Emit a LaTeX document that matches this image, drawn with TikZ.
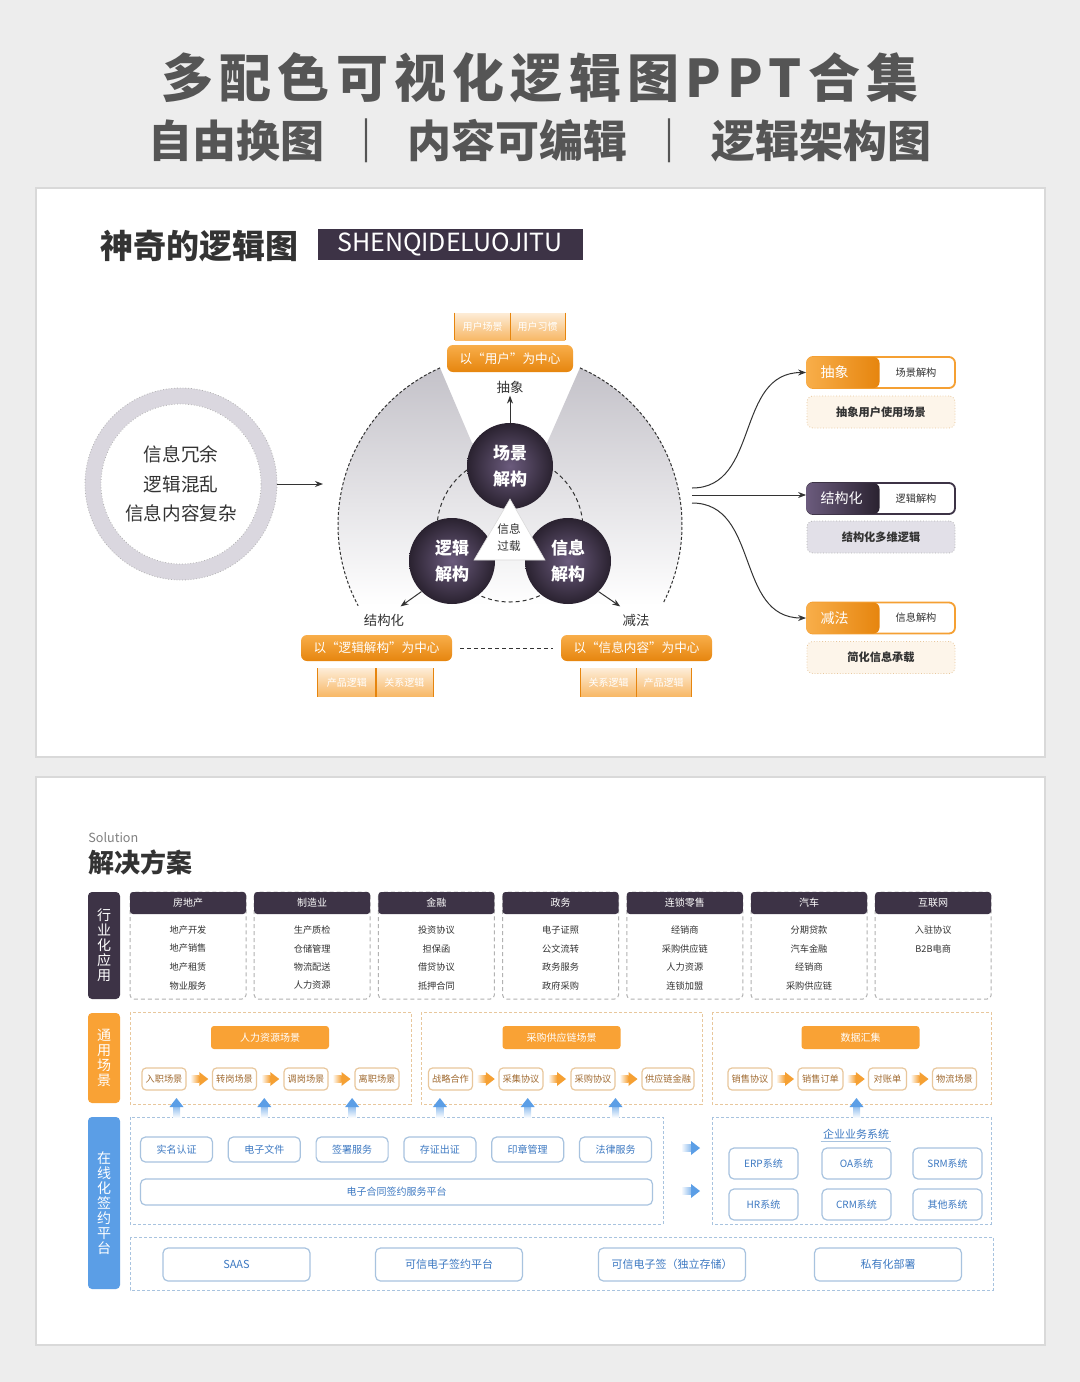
\documentclass[tikz,border=0pt]{standalone}
\usepackage{fontspec}
\setmainfont{Noto Sans CJK SC}
\newfontfamily\spacedfont[LetterSpace=12]{Noto Sans CJK SC}
\usetikzlibrary{positioning,arrows.meta,calc}
\newcommand\setfs[2]{\fontsize{#1}{#2}\selectfont}

\definecolor{pagegray}{HTML}{EDEDED}
\definecolor{panelline}{HTML}{D9D9D9}
\definecolor{ink}{HTML}{333333}
\definecolor{titlegray}{HTML}{555555}
\definecolor{plum}{HTML}{3D3346}
\definecolor{plumlight}{HTML}{6B5B7D}
\definecolor{plumdark}{HTML}{2A2230}
\definecolor{amber}{HTML}{F5A033}
\definecolor{amberlight}{HTML}{F8AE4A}
\definecolor{amberdark}{HTML}{E6850E}
\definecolor{amberfill}{HTML}{F9A235}
\definecolor{amberline}{HTML}{E8C79C}
\definecolor{amberpale}{HTML}{FDF5EA}
\definecolor{amberink}{HTML}{A06A30}
\definecolor{ringgray}{HTML}{DAD7DF}
\definecolor{fangray}{HTML}{C4C2C9}
\definecolor{lavender}{HTML}{E2E0E8}
\definecolor{skyblue}{HTML}{5B9EE6}
\definecolor{blueink}{HTML}{3D79C2}
\definecolor{blueline}{HTML}{A8C3DF}

\tikzset{
  ball/.style={circle, minimum size=43pt, inner sep=0pt, inner color=plumlight, outer color=plumdark,
    text=white, align=center, font=\bfseries\setfs{8.5}{13}},
  centerbox/.style={rounded corners=3pt, top color=amberlight, bottom color=amberdark, text=white,
    minimum height=13pt, inner sep=0pt, font=\setfs{6.3}{8}},
  tabcell/.style={top color=amber!20, bottom color=amber!75, text=white, minimum height=14pt,
    inner sep=0pt, font=\setfs{5}{6}},
  tabrule/.style={amberdark, line width=0.8pt},
  steplabel/.style={text=ink, font=\setfs{6.7}{8}, inner sep=1pt},
  linkarrow/.style={-{Stealth[length=4pt,width=3pt]}, ink, line width=0.5pt},
  tagframe/.style={draw=#1, line width=0.9pt, fill=white, rounded corners=3pt, minimum width=74pt,
    minimum height=15.5pt, inner sep=0pt},
  taghead/.style={rounded corners=3pt, minimum height=15.5pt, text width=22.5pt, inner xsep=7pt,
    inner ysep=0pt, align=left, text=white, font=\setfs{7}{8}, anchor=west},
  tagtext/.style={text=ink, font=\setfs{5.1}{6}},
  tagnote/.style={rounded corners=3pt, densely dotted, draw=#1, minimum width=74pt, minimum height=16pt,
    inner sep=0pt, text=ink, font=\bfseries\setfs{5.6}{7}},
  sidebar/.style={rounded corners=2pt, minimum width=16pt, inner sep=0pt, align=center, text=white,
    font=\setfs{7}{7.5}},
  indhead/.style={fill=plum, text=white, rounded corners=1.5pt, minimum width=58pt, minimum height=11pt,
    inner sep=0pt, font=\setfs{5}{6}},
  inditem/.style={text=ink, font=\setfs{4.6}{5.5}, inner sep=0pt},
  indframe/.style={draw=gray!60, dash pattern=on 2pt off 1.5pt, line width=0.5pt, rounded corners=2pt},
  flowframe/.style={draw=amberline, dash pattern=on 1.5pt off 1pt, line width=0.5pt},
  flowhead/.style={fill=amberfill, text=white, rounded corners=1.5pt, minimum width=59pt,
    minimum height=11.5pt, inner sep=0pt, font=\setfs{5}{6}},
  flowitem/.style={draw=amberline, line width=0.6pt, fill=white, rounded corners=2pt, minimum height=11pt,
    inner sep=0pt, text=amberink, font=\setfs{4.6}{5.5}},
  signframe/.style={draw=blueline, dash pattern=on 1.5pt off 1pt, line width=0.5pt},
  signitem/.style={draw=blueline, line width=0.6pt, fill=white, rounded corners=2.5pt, inner sep=0pt,
    text=blueink, font=\setfs{5}{6}},
  chev/.pic={
    \shade[left color=white, right color=amber] (-9,-3.5) rectangle (0,3.5);
    \fill[amber] (0,-7) -- (9,0) -- (0,7) -- cycle;
  },
  blueup/.pic={
    \shade[top color=skyblue!70, bottom color=white] (-3.5,0) rectangle (3.5,12);
    \fill[skyblue] (-7,1) -- (0,-8) -- (7,1) -- cycle;
  },
  blueright/.pic={
    \shade[left color=white, right color=skyblue!70] (-10,-3.5) rectangle (0,3.5);
    \fill[skyblue] (0,-7) -- (9,0) -- (0,7) -- cycle;
  }
}

\begin{document}
\begin{tikzpicture}[x=0.5pt,y=-0.5pt]
  \useasboundingbox (0,0) rectangle (1080,1382);
  \fill[pagegray] (0,0) rectangle (1080,1382);

  % headline
  \node[text=titlegray, font=\spacedfont\bfseries\setfs{26}{30}] (maintitle) at (540,78) {多配色可视化逻辑图PPT合集};
  \node[text=titlegray, font=\bfseries\setfs{22}{26}] (subtitle) at (540,141)
    {自由换图\hspace{0.45em}｜\hspace{0.45em}内容可编辑\hspace{0.45em}｜\hspace{0.45em}逻辑架构图};

  % ---------- upper panel ----------
  \filldraw[fill=white, draw=panelline, line width=1pt] (36,188) rectangle (1045,757);
  \node[anchor=west, text=ink, font=\bfseries\setfs{16.5}{20}, inner sep=0pt] (logictitle) at (100,246) {神奇的逻辑图};
  \node[fill=plum, text=white, minimum width=132.5pt, minimum height=15.5pt, inner sep=0pt,
    font=\setfs{12.5}{14}] (logiccode) at (450,244.5) {SHENQIDELUOJITU};

  % problem ring
  \node[circle, minimum size=96pt, inner sep=0pt, fill=ringgray, draw=gray!60, densely dotted] (messring) at (181,484) {};
  \node[circle, minimum size=80pt, inner sep=0pt, fill=white, draw=gray!60, densely dotted] (messcore) at (181,484) {};
  \node[align=center, text=ink, font=\setfs{9.3}{14.75}] (mess) at (181,484) {信息冗余\\逻辑混乱\\信息内容复杂};
  \coordinate (fanin) at (323,484);
  \draw[linkarrow] (messring.east) -- (fanin);

  % fan and dashed arcs
  \coordinate (hub) at (510,525);
  \shade[top color=fangray, bottom color=white] (hub) ++(246:172) arc[start angle=246, end angle=152, radius=172]
    -- ($(hub)+(27:172)$) arc[start angle=27, end angle=-66, radius=172] -- (547,443) -- (472,443) -- cycle;
  \draw[ink, line width=0.5pt, dash pattern=on 1.5pt off 1pt] (hub) ++(246:172) arc[start angle=246, end angle=152, radius=172];
  \draw[ink, line width=0.5pt, dash pattern=on 1.5pt off 1pt] (hub) ++(-66:172) arc[start angle=-66, end angle=27, radius=172];
  \draw[ink, line width=0.5pt, dash pattern=on 2pt off 1.5pt] (510,529) circle (73);

  % three balls
  \node[ball] (scene) at (510,466) {场景\\解构};
  \node[ball] (logic) at (452,561) {逻辑\\解构};
  \node[ball] (info) at (568,561) {信息\\解构};
  \filldraw[fill=white, draw=gray!30, line width=0.3pt] (510,499) -- (545,560) -- (474,560) -- cycle;
  \node[align=center, text=ink, font=\setfs{5.8}{8.5}, inner sep=0pt] (overload) at (509,538) {信息\\过载};

  \node[steplabel] (lblabs) at (510,387) {抽象};
  \node[steplabel] (lblstr) at (384,620) {结构化};
  \node[steplabel] (lblsub) at (636,620) {减法};
  \draw[linkarrow] (scene.north) -- (lblabs.south);
  \draw[linkarrow] (logic.225) -- ($(lblstr.north east)+(-6,-5)$);
  \draw[linkarrow] (info.315) -- ($(lblsub.north west)+(0,-5)$);

  % centred orange boxes
  \node[centerbox, minimum width=63pt, minimum height=13.5pt] (ctruser) at (510,358.5) {以“用户”为中心};
  \node[centerbox, minimum width=75.5pt] (ctrlogic) at (376.5,648) {以“逻辑解构”为中心};
  \node[centerbox, minimum width=75.5pt] (ctrinfo) at (636.5,648) {以“信息内容”为中心};
  \draw[ink, line width=0.5pt, dash pattern=on 2pt off 1.5pt, shorten <=4pt, shorten >=4pt] (ctrlogic.east) -- (ctrinfo.west);

  % tabs
  \node[tabcell, minimum width=27.5pt, minimum height=13.5pt] (tabu1) at (482.5,326.5) {用户场景};
  \node[tabcell, minimum width=27.5pt, minimum height=13.5pt] (tabu2) at (537.5,326.5) {用户习惯};
  \node[tabcell, minimum width=28.75pt] (tabl1) at (346.75,682.5) {产品逻辑};
  \node[tabcell, minimum width=28.75pt] (tabl2) at (404.25,682.5) {关系逻辑};
  \node[tabcell, minimum width=27.5pt] (tabr1) at (608.5,682.5) {关系逻辑};
  \node[tabcell, minimum width=27.5pt] (tabr2) at (663.5,682.5) {产品逻辑};
  \foreach \a/\b in {tabu1/tabu2, tabl1/tabl2, tabr1/tabr2}{
    \draw[tabrule] (\a.north west) -- (\a.south west);
    \draw[tabrule] (\a.north east) -- (\a.south east);
    \draw[tabrule] (\b.north east) -- (\b.south east);
  }

  % result tags on the right
  \node[tagframe=amber] (rabs) at (881,372.5) {};
  \node[taghead, left color=amberlight, right color=amberdark] (rabshead) at (rabs.west) {抽象};
  \node[tagtext] (rabstext) at (916,372.5) {场景解构};
  \node[tagnote=amberline, fill=amberpale] (rabsnote) at (881,412) {抽象用户使用场景};

  \node[tagframe=plum] (rstr) at (881,498.5) {};
  \node[taghead, left color=plumlight, right color=plumdark] (rstrhead) at (rstr.west) {结构化};
  \node[tagtext] (rstrtext) at (916,498.5) {逻辑解构};
  \node[tagnote=gray!60, fill=lavender] (rstrnote) at (881,537) {结构化多维逻辑};

  \node[tagframe=amber] (rsub) at (881,618) {};
  \node[taghead, left color=amberlight, right color=amberdark] (rsubhead) at (rsub.west) {减法};
  \node[tagtext] (rsubtext) at (916,618) {信息解构};
  \node[tagnote=amberline, fill=amberpale] (rsubnote) at (881,657.5) {简化信息承载};

  \coordinate (fanA) at (692,488);
  \coordinate (fanB) at (692,495);
  \coordinate (fanC) at (692,503);
  \draw[linkarrow] (fanA) .. controls (760,488) and (735,372.5) .. (rabs.west);
  \draw[linkarrow] (fanB) -- (fanB -| rstr.west);
  \draw[linkarrow] (fanC) .. controls (760,503) and (735,618) .. (rsub.west);

  % ---------- lower panel ----------
  \filldraw[fill=white, draw=panelline, line width=1pt] (36,777) rectangle (1045,1345);
  \node[anchor=west, text=gray, font=\setfs{6.3}{7}, inner sep=0pt] (soltag) at (88,838) {Solution};
  \node[anchor=west, text=ink, font=\bfseries\setfs{13}{15}, inner sep=0pt] (soltitle) at (88,862) {解决方案};

  \node[sidebar, fill=plum, minimum height=53.5pt] (barind) at (104,945.5) {行\\业\\化\\应\\用};
  \node[sidebar, fill=amberfill, minimum height=45pt] (barcom) at (104,1058) {通\\用\\场\\景};
  \node[sidebar, fill=skyblue, minimum height=86pt] (barsig) at (104,1203) {在\\线\\化\\签\\约\\平\\台};

  % industry columns
  \foreach \hd/\ia/\ib/\ic/\id [count=\i from 0] in {
      房地产/地产开发/地产销售/地产租赁/物业服务,
      制造业/生产质检/仓储管理/物流配送/人力资源,
      金融/投资协议/担保函/借贷协议/抵押合同,
      政务/电子证照/公文流转/政务服务/政府采购,
      连锁零售/经销商/采购供应链/人力资源/连锁加盟,
      汽车/分期贷款/汽车金融/经销商/采购供应链,
      互联网/入驻协议/B2B电商//}{
    \pgfmathsetmacro\cx{188+124.2*\i}
    \draw[indframe] (\cx-58,892) rectangle (\cx+58,999);
    \node[indhead] (ind\i) at (\cx,903) {\hd};
    \node[inditem] (ind\i-a) at (\cx,930) {\ia};
    \node[inditem] (ind\i-b) at (\cx,948.5) {\ib};
    \node[inditem] (ind\i-c) at (\cx,967) {\ic};
    \node[inditem] (ind\i-d) at (\cx,985.5) {\id};
  }

  % common scenes
  \draw[flowframe] (130,1012) rectangle (411,1104);
  \draw[flowframe] (421,1012) rectangle (702,1104);
  \draw[flowframe] (712,1012) rectangle (991,1104);
  \node[flowhead] (hrhead) at (270,1037.5) {人力资源场景};
  \node[flowhead] (buyhead) at (561.5,1037.5) {采购供应链场景};
  \node[flowhead] (datahead) at (860.5,1037.5) {数据汇集};
  \foreach \txt/\cx/\w [count=\k] in {入职场景/164/22, 转岗场景/234.5/22, 调岗场景/306/22, 离职场景/377/22,
      战略合作/450.5/22, 采集协议/521/22, 采购协议/593/22, 供应链金融/668/26,
      销售协议/750/22, 销售订单/820.5/22.5, 对账单/887.5/19, 物流场景/954.5/22}{
    \node[flowitem, minimum width=\w pt] (f\k) at (\cx,1079) {\txt};
  }
  \foreach \a/\b in {1/2, 2/3, 3/4, 5/6, 6/7, 7/8, 9/10, 10/11, 11/12}{
    \pic at ($(f\a.east)!0.5!(f\b.west)$) {chev};
  }

  % signing platform
  \draw[signframe] (130,1117) rectangle (663,1224);
  \foreach \txt [count=\k] in {实名认证, 电子文件, 签署服务, 存证出证, 印章管理, 法律服务}{
    \pgfmathsetmacro\cx{176.5+87.8*(\k-1)}
    \node[signitem, minimum width=36pt, minimum height=12.5pt] (s\k) at (\cx,1149.5) {\txt};
  }
  \node[signitem, minimum width=256pt, minimum height=13pt] (plat) at (396.5,1192) {电子合同签约服务平台};

  \draw[signframe] (712,1117) rectangle (991,1224);
  \node[text=blueink, font=\setfs{5.5}{6.5}, inner sep=1pt] (enttitle) at (856,1134) {企业业务系统};
  \draw[blueline, line width=0.4pt] (enttitle.south west) -- (enttitle.south east);
  \foreach \txt/\cx/\cy [count=\k] in {ERP系统/763.5/1163.5, OA系统/856.5/1163.5, SRM系统/947.5/1163.5,
      HR系统/763.5/1204.5, CRM系统/856.5/1204.5, 其他系统/947.5/1204.5}{
    \node[signitem, minimum width=34.5pt, minimum height=15.5pt] (sys\k) at (\cx,\cy) {\txt};
  }

  \coordinate (uprow) at (0,1106);
  \foreach \k in {1,...,6}{
    \pic at (s\k |- uprow) {blueup};
  }
  \pic at (sys2 |- uprow) {blueup};
  \coordinate (sigout1) at (691,1148);
  \coordinate (sigout2) at (691,1191);
  \pic at (sigout1) {blueright};
  \pic at (sigout2) {blueright};

  \draw[signframe] (130,1237) rectangle (993,1290);
  \foreach \txt/\cx [count=\k] in {SAAS/236.5, 可信电子签约平台/449, 可信电子签（独立存储）/672, 私有化部署/888}{
    \node[signitem, minimum width=73.5pt, minimum height=16.5pt, font=\setfs{5.5}{6.5}] (dep\k) at (\cx,1264.5) {\txt};
  }
\end{tikzpicture}
\end{document}
